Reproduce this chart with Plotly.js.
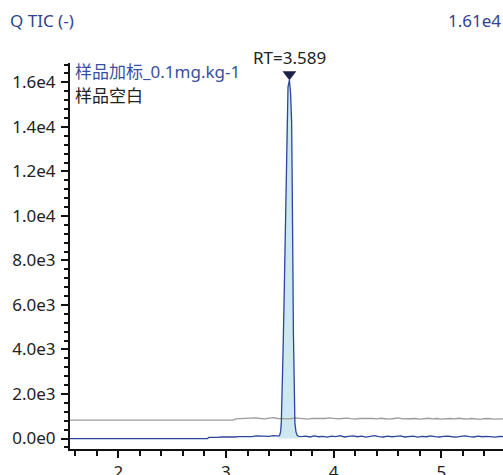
<!DOCTYPE html>
<html>
<head>
<meta charset="utf-8">
<script src="https://cdn.plot.ly/plotly-3.0.1.min.js"></script>
<style>html,body{margin:0;padding:0;background:#fff;}#chart{width:503px;height:475px;}</style>
</head>
<body>
<div id="chart"></div>
<script>
// ---- data ----
const seriesNames = ["样品加标_0.1mg.kg-1", "样品空白"];

// spiked sample (blue): baseline before peak
const bluePreX = [1.552, 2.83, 2.84, 2.88, 2.92, 2.96, 3.00, 3.04, 3.08, 3.12, 3.16, 3.20, 3.24, 3.28, 3.32, 3.36, 3.40, 3.44, 3.47];
const bluePreY = [0, 0, 50, 40, 50, 70, 60, 80, 70, 90, 80, 100, 90, 120, 110, 120, 100, 130, 110];

// peak
const peakX = [3.490, 3.500, 3.508, 3.514, 3.520, 3.530, 3.540, 3.554, 3.564, 3.576, 3.589, 3.600, 3.610, 3.616, 3.621, 3.626, 3.632, 3.640, 3.650, 3.660, 3.675];
const peakY = [110, 160, 320, 750, 1700, 3900, 6300, 10700, 14200, 15800, 16100, 15500, 14200, 12000, 8000, 4800, 1700, 700, 300, 150, 100];

// baseline after peak
const bluePostX = [3.70, 3.74, 3.78, 3.82, 3.86, 3.90, 3.94, 3.98, 4.02, 4.06, 4.10, 4.14, 4.18, 4.22, 4.26, 4.30, 4.34, 4.38, 4.42, 4.46, 4.50, 4.54, 4.58, 4.62, 4.66, 4.70, 4.74, 4.78, 4.82, 4.86, 4.90, 4.94, 4.98, 5.02, 5.06, 5.10, 5.14, 5.18, 5.22, 5.26, 5.30, 5.34, 5.38, 5.42, 5.46, 5.50, 5.54, 5.58];
const bluePostY = [90, 110, 70, 120, 80, 100, 60, 110, 90, 130, 70, 100, 120, 80, 110, 60, 100, 130, 90, 70, 110, 80, 100, 120, 70, 90, 110, 60, 100, 80, 120, 90, 70, 100, 110, 80, 60, 100, 120, 90, 70, 110, 80, 100, 90, 60, 100, 80];

// blank sample (gray)
const grayX = [1.552, 3.07, 3.09,
  3.12, 3.16, 3.20, 3.24, 3.28, 3.32, 3.36, 3.40, 3.44, 3.48,
  3.52, 3.56, 3.60, 3.64, 3.68, 3.72, 3.76, 3.80, 3.84, 3.88,
  3.92, 3.96, 4.00, 4.04, 4.08, 4.12, 4.16, 4.20, 4.24, 4.28,
  4.32, 4.36, 4.40, 4.44, 4.48, 4.52, 4.56, 4.60, 4.64, 4.68,
  4.72, 4.76, 4.80, 4.84, 4.88, 4.92, 4.96, 5.00, 5.04, 5.08,
  5.12, 5.16, 5.20, 5.24, 5.28, 5.32, 5.36, 5.40, 5.44, 5.48,
  5.52, 5.56, 5.58];
const grayY = [825, 825, 880,
  890, 880, 910, 900, 930, 900, 880, 920, 940, 900,
  890, 910, 880, 930, 900, 880, 870, 910, 900, 890,
  900, 930, 890, 880, 900, 920, 890, 870, 900, 910,
  890, 900, 880, 910, 890, 870, 900, 930, 880, 890,
  920, 900, 870, 890, 910, 880, 900, 870, 890, 900,
  880, 910, 890, 870, 900, 880, 860, 890, 900, 870,
  890, 880, 880];

const peakRT = [3.589];
const peakMarkY = [16370];
const peakLabel = "RT=3.589";
const maxLabel = "1.61e4";
const chartTitle = "Q TIC (-)";

const xTickVals = [2, 3, 4, 5];
const xTickText = ["2", "3", "4", "5"];
const yTickVals = [0, 2000, 4000, 6000, 8000, 10000, 12000, 14000, 16000];
const yTickText = ["0.0e0", "2.0e3", "4.0e3", "6.0e3", "8.0e3", "1.0e4", "1.2e4", "1.4e4", "1.6e4"];

// ---- drawing ----
const blueAllX = bluePreX.concat(peakX, bluePostX);
const blueAllY = bluePreY.concat(peakY, bluePostY);
const FONT = '"Noto Sans", "Noto Sans CJK SC", sans-serif';
const BLUE = '#2c469b';
const FS = 17;

const traces = [
  {x: peakX, y: peakY, type: 'scatter', mode: 'lines', fill: 'tozeroy',
   fillcolor: '#cde8f1', line: {width: 0, color: 'rgba(0,0,0,0)'}, hoverinfo: 'skip'},
  {x: grayX, y: grayY, type: 'scatter', mode: 'lines', name: seriesNames[1],
   line: {color: '#9c9c9c', width: 1.3}},
  {x: blueAllX, y: blueAllY, type: 'scatter', mode: 'lines', name: seriesNames[0],
   line: {color: BLUE, width: 1.3}},
  {x: peakRT, y: peakMarkY, type: 'scatter', mode: 'markers',
   marker: {symbol: 'triangle-down', size: 12, color: '#1c2147'}, cliponaxis: false}
];

const axisCommon = {
  showline: true, linewidth: 2, linecolor: '#111', mirror: false,
  ticks: 'outside', ticklen: 7, tickwidth: 2, tickcolor: '#111',
  showgrid: false, zeroline: false,
  tickfont: {family: FONT, size: FS, color: '#222'}
};

const layout = {
  width: 503, height: 475,
  margin: {l: 70, r: 0, t: 63, b: 26, pad: 0},
  paper_bgcolor: '#fff', plot_bgcolor: '#fff',
  showlegend: false,
  font: {family: FONT, size: FS, color: '#222'},
  title: {text: chartTitle, x: 10 / 503, xanchor: 'left', xref: 'container', y: 0.955, yanchor: 'middle',
          font: {family: FONT, size: FS, color: '#2f4490'}},
  xaxis: Object.assign({}, axisCommon, {
    range: [1.552, 5.572], tickmode: 'array', tickvals: xTickVals, ticktext: xTickText,
    minor: {dtick: 0.2, tick0: 0, ticks: 'outside', ticklen: 5, tickwidth: 2, tickcolor: '#111', showgrid: false}
  }),
  yaxis: Object.assign({}, axisCommon, {
    range: [-470, 16870], tickmode: 'array', tickvals: yTickVals, ticktext: yTickText,
    ticklabelstandoff: 2,
    minor: {dtick: 400, tick0: 0, ticks: 'outside', ticklen: 4, tickwidth: 2, tickcolor: '#111', showgrid: false}
  }),
  annotations: [
    {xref: 'paper', yref: 'paper', x: 1, y: 1.109, xanchor: 'right', yanchor: 'middle',
     text: maxLabel, showarrow: false, font: {family: FONT, size: FS, color: '#2f4490'}},
    {xref: 'paper', yref: 'paper', x: 0.008, y: 0.977, xanchor: 'left', yanchor: 'middle',
     text: seriesNames[0], showarrow: false, font: {family: FONT, size: FS, color: '#3a4f9e'}},
    {xref: 'paper', yref: 'paper', x: 0.008, y: 0.917, xanchor: 'left', yanchor: 'middle',
     text: seriesNames[1], showarrow: false, font: {family: FONT, size: FS, color: '#222'}},
    {xref: 'x', yref: 'paper', x: peakRT[0], y: 1.013, xanchor: 'center', yanchor: 'middle',
     text: peakLabel, showarrow: false, font: {family: FONT, size: FS, color: '#222'}}
  ]
};

Plotly.newPlot('chart', traces, layout, {displayModeBar: false, staticPlot: true});
</script>
</body>
</html>
